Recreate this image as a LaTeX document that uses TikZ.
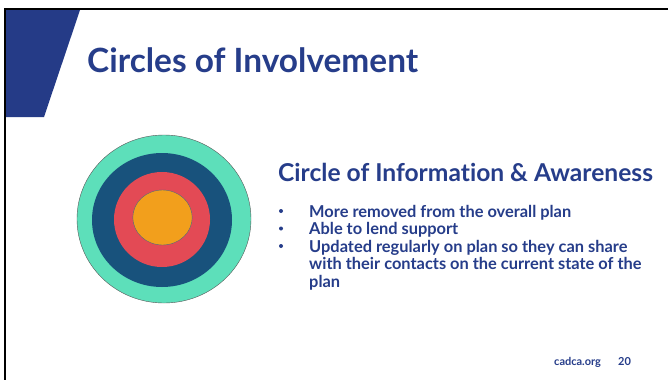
\documentclass[tikz,border=0pt]{standalone}
\usepackage{fontspec}
\setmainfont[Ligatures={NoCommon,NoRare}]{Lato}
\definecolor{navy}{HTML}{253B87}
\definecolor{txt}{HTML}{263D8A}
\definecolor{ringA}{HTML}{5DDFBA}
\definecolor{ringB}{HTML}{18527C}
\definecolor{ringC}{HTML}{E34A55}
\definecolor{ringD}{HTML}{F29F1C}
\tikzset{
  lbl/.style={anchor=base west, inner sep=0pt, text=txt, font=\bfseries},
}
\begin{document}
\begin{tikzpicture}[x=1pt,y=-1pt]
\useasboundingbox (0,0) rectangle (668,380);
\fill[white] (0,0) rectangle (668,380);
% frame lines
\fill[black] (4,8) rectangle (668,10);
\fill[black] (4,8) rectangle (6,380);
% blue slanted block
\fill[navy] (6,10) -- (80,10) -- (44,117) -- (6,117) -- cycle;
% title
\node[lbl, font=\bfseries\fontsize{33.4}{36}\selectfont] (title) at (87,72) {Circles of Involvement};
% circles
\fill[ringA, draw=gray!70!black, line width=0.4pt] (164,219) ellipse [x radius=87, y radius=84];
\fill[ringB] (162,220) ellipse [x radius=70, y radius=67];
\fill[ringC] (162,219.5) ellipse [x radius=48, y radius=47.5];
\fill[ringD, draw=gray!50!ringB, line width=0.4pt] (162.5,217.5) ellipse [x radius=29.7, y radius=27.5];
% subtitle
\node[lbl, font=\bfseries\fontsize{24.6}{27}\selectfont] (sub) at (278,181.7) {Circle of Information \& Awareness};
% bullets
\tikzset{bl/.style={lbl, font=\bfseries\fontsize{16.4}{18}\selectfont}}
\foreach \y/\t [count=\i] in {217/More removed from the overall plan, 234.5/Able to lend support, 252/Updated regularly on plan so they can share, 269.5/with their contacts on the current state of the, 287/plan}{
  \node[bl] (b\i) at (309,\y) {\t};
}
\foreach \y [count=\i] in {217,234.5,252}{
  \fill[txt] (281,\y-6) circle (2) coordinate (d\i);
}
% footer
\node[lbl, font=\bfseries\fontsize{11}{12}\selectfont] (web) at (554,365) {cadca.org};
\node[lbl, font=\bfseries\fontsize{11}{12}\selectfont] (pg) at (618,365) {20};
\end{tikzpicture}
\end{document}
